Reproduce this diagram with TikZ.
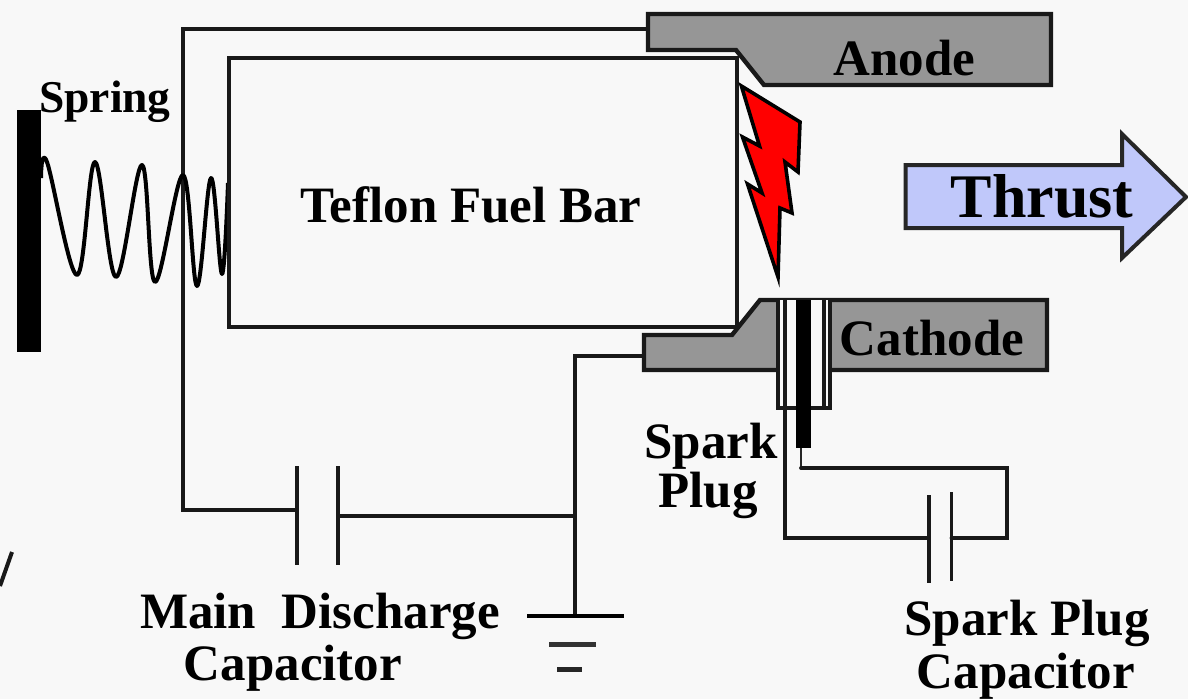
\documentclass[tikz,border=0pt]{standalone}
\usepackage{fontspec}
\setmainfont{Liberation Serif}
\definecolor{paper}{HTML}{F8F8F8}
\definecolor{metal}{HTML}{969696}
\definecolor{thrustblue}{HTML}{C0C8FA}
\tikzset{
  wire/.style={draw=black!90,line width=3.8pt,line cap=round,line join=miter},
  thinwire/.style={draw=black!85,line width=2.4pt},
  plate/.style={draw=black!90,line width=3.4pt},
  metalpart/.style={draw=black!90,fill=metal,line width=4.4pt,line join=miter},
  label/.style={inner sep=0pt,anchor=base,font=\fontsize{51}{51}\selectfont\bfseries}
}
\begin{document}
\begin{tikzpicture}[x=1pt,y=-1pt]
\useasboundingbox (0,0) rectangle (1188,699);
\fill[paper] (0,0) rectangle (1188,699);
% stray mark at the left edge
\draw[black!90,line width=4pt] (0,586) -- (12,552);
% junctions
\coordinate (anodeTap) at (648,29);
\coordinate (topLeft) at (183,29);
\coordinate (botLeft) at (183,510);
\coordinate (mainA) at (297,510);
\coordinate (mainB) at (338,516);
\coordinate (gndTee) at (575,516);
\coordinate (gndTop) at (575,356);
\coordinate (cathodeTap) at (644,356);
\coordinate (gndPt) at (575,615);
\coordinate (sparkWireA) at (785,538);
\coordinate (sparkTube) at (785,408);
\coordinate (capA) at (929,538);
\coordinate (capB) at (951.5,538);
\coordinate (sparkR) at (1007,538);
\coordinate (sparkRT) at (1007,468);
\coordinate (pinB) at (801,468);
\coordinate (pinT) at (801,448);
% spring backing bar
\fill[black] (17,110) rectangle (41,352);
% wires
\draw[wire] (anodeTap) -- (topLeft) -- (botLeft) -- (mainA);
\draw[wire] (mainB) -- (gndTee);
\draw[wire] (cathodeTap) -- (gndTop) -- (gndPt);
% spring
\draw[black,line width=4pt,line join=round] plot[smooth,tension=0.6] coordinates {(41,178) (47,162) (77,275) (95,162) (116,277) (142,165) (155,282) (183,175) (197,286) (211,178) (222,274) (228,183)};
% fuel bar
\draw[black!90,line width=4.4pt] (229,58) rectangle (737,327);
% main capacitor
\draw[plate] (297,466) -- (297,565);
\draw[plate] (338,466) -- (338,565);
% ground
\draw[black,line width=4pt] (527,616) -- (624,616);
\draw[black!80,line width=5pt] (549,644) -- (596,644);
\draw[black!85,line width=5pt] (557,669) -- (582,669);
% anode
\path[metalpart] (648,14) -- (1051,14) -- (1051,85) -- (764,85) -- (736,50) -- (648,50) -- cycle;
% cathode
\path[metalpart] (644,335) -- (732,335) -- (760,300) -- (1047,300) -- (1047,370) -- (644,370) -- cycle;
% spark plug
\draw[black!90,fill=paper,line width=3.4pt] (778,300) -- (778,408) -- (830,408) -- (830,300);
\draw[black!90,line width=3.4pt] (785,300) -- (785,408);
\draw[black!90,line width=3.4pt] (824,300) -- (824,408);
\fill[black] (796,300) rectangle (811,448);
% spark plug circuit
\draw[thinwire] (pinT) -- (pinB);
\draw[wire] (pinB) -- (sparkRT) -- (sparkR) -- (capB);
\draw[wire] (sparkTube) -- (sparkWireA) -- (capA);
\draw[plate] (929,495) -- (929,583);
\draw[plate] (951.5,492) -- (951.5,581);
% spark bolt
\draw[black,fill=red,line width=3.6pt,line join=miter] (741.4,86) -- (800,122) -- (798,172) -- (785,162) -- (792,213) -- (780,208) -- (778,277) -- (747.5,184) -- (762,193) -- (742.5,137) -- (759.5,146) -- cycle;
% thrust arrow
\draw[black!85,fill=thrustblue,line width=4pt,line join=miter] (905.5,165) -- (1122,165) -- (1122,134) -- (1186,197) -- (1122,258) -- (1122,228) -- (905.5,228) -- cycle;
% labels
\node[label,font=\fontsize{45.5}{45}\selectfont\bfseries] (spring) at (105,112) {Spring};
\node[label] (anode) at (904.5,75) {Anode};
\node[label] (fuel) at (471,222) {Teflon Fuel Bar};
\node[label,font=\fontsize{62}{62}\selectfont\bfseries] (thrust) at (1042,217) {Thrust};
\node[label] (cathode) at (932,355) {Cathode};
\node[label] (sparkLab) at (711,458) {Spark};
\node[label] (plugLab) at (708,507) {Plug};
\node[label] (sparkPlugLab) at (1027,635) {Spark Plug};
\node[label] (capSpark) at (1026,688) {Capacitor};
\node[label] (mainLab) at (320,628) {Main\ \ Discharge};
\node[label] (capMain) at (293,680) {Capacitor};
\end{tikzpicture}
\end{document}
